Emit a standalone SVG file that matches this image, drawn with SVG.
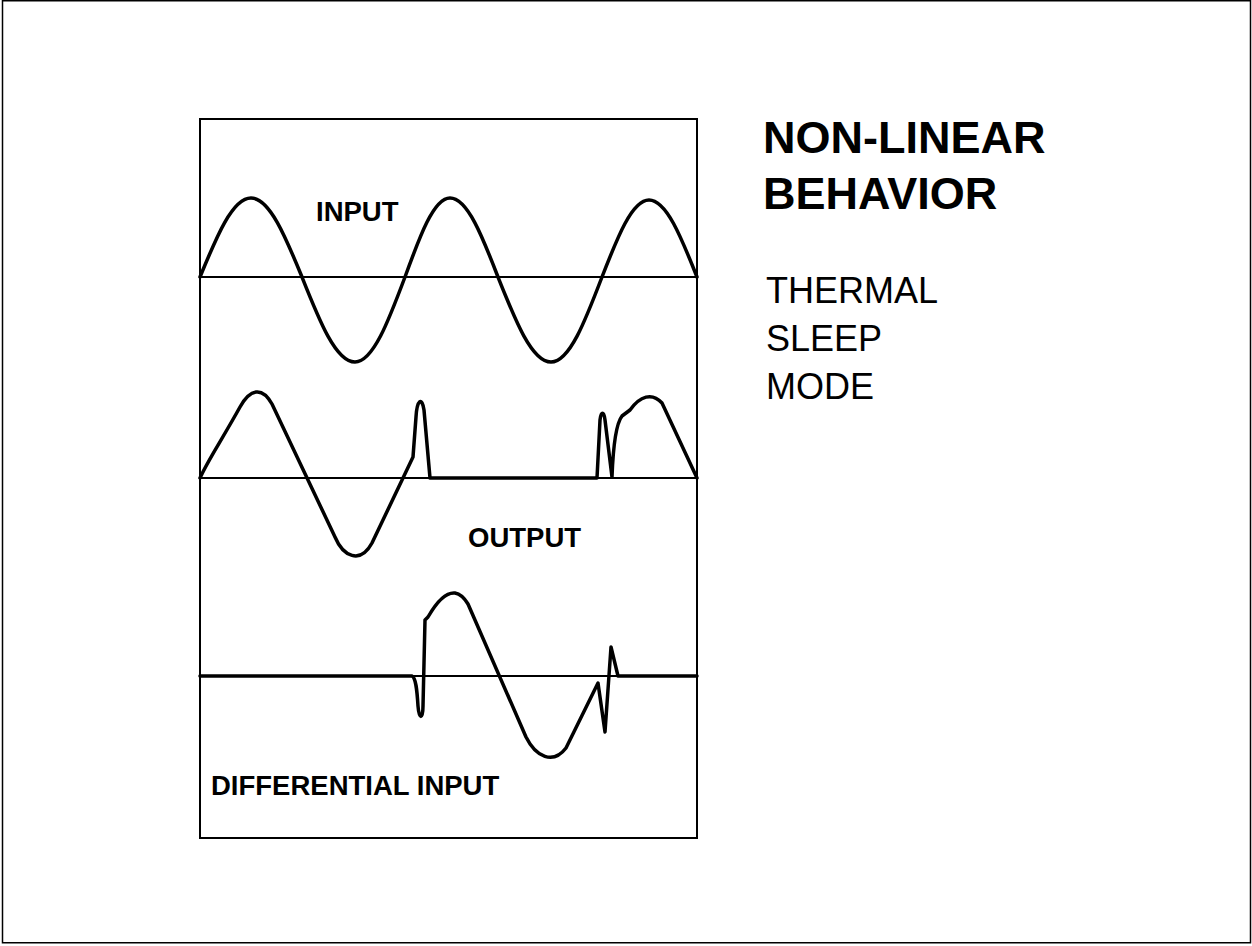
<svg xmlns="http://www.w3.org/2000/svg" width="1252" height="946" viewBox="0 0 1252 946">
<style>
.frame{fill:none;stroke:#000;stroke-width:1.5}
.box{fill:none;stroke:#000;stroke-width:2}
.base{fill:none;stroke:#000;stroke-width:2}
.wave{fill:none;stroke:#000;stroke-width:3.5;stroke-linejoin:round;stroke-linecap:round}
.lbl{font-family:"Liberation Sans",Arial,sans-serif;font-weight:bold;font-size:27.5px;fill:#000}
.title{font-family:"Liberation Sans",Arial,sans-serif;font-weight:bold;font-size:45px;fill:#000}
.item{font-family:"Liberation Sans",Arial,sans-serif;font-size:36px;fill:#000}
</style>
<rect width="1252" height="946" fill="#fff"/>
<rect class="frame" x="2.5" y="0.75" width="1248" height="942"/>
<g id="plot">
<rect class="box" x="200" y="119" width="497" height="719"/>
</g>
<g id="connectors">
<line class="base" x1="200" y1="277" x2="697" y2="277"/>
<line class="base" x1="200" y1="478" x2="697" y2="478"/>
<line class="base" x1="200" y1="676" x2="697" y2="676"/>
</g>
<g id="input-wave">
<path class="wave" d="M200,277 C216.6,236.5 232.5,198 251,198 C269.5,198 285.4,236.5 302,277 C319.3,320.5 335.8,362 355,362 C373.1,362 388.7,320.5 405,277 C419.7,236.5 433.7,198 450,198 C467.4,198 482.4,236.5 498,277 C515.3,320.5 531.8,362 551,362 C569.5,362 585.4,320.5 602,277 C617.3,237.6 632,200 649,200 C666.4,200 681.4,237.6 697,277"/>
<text class="lbl" x="316" y="221">INPUT</text>
</g>
<g id="output-wave">
<path class="wave" d="M200,478 C208,460 220,443 240,407 C250,389 262,386 272,404 L335,537 C343,556 360,565 372,543 L403,478 L413,457 L416,417 C417,400 422,396 424,410 L430,478 L597,478 L600,420 C601,411 604,411 605,420 L612,477 C613,450 615,425 622,416 L630,410 C640,396 652,392 662,403 L697,478"/>
<text class="lbl" x="468" y="547">OUTPUT</text>
</g>
<g id="differential-wave">
<path class="wave" d="M200,676 L412,676 C416,678 417,690 418,706 C419,720 423,720 423,706 L425,620 L428,617 C436,603 445,592 455,593 C461,594 465,599 468,604 L526,737 C536,757 553,765 566,748 L598,683 L605,732 L611,647 L618,676 L697,676"/>
<text class="lbl" x="211" y="795">DIFFERENTIAL INPUT</text>
</g>
<g id="title">
<text class="title" x="763" y="153">NON-LINEAR</text>
<text class="title" x="763" y="209">BEHAVIOR</text>
</g>
<g id="list">
<text class="item" x="766" y="303">THERMAL</text>
<text class="item" x="766" y="351">SLEEP</text>
<text class="item" x="766" y="399">MODE</text>
</g>
</svg>
